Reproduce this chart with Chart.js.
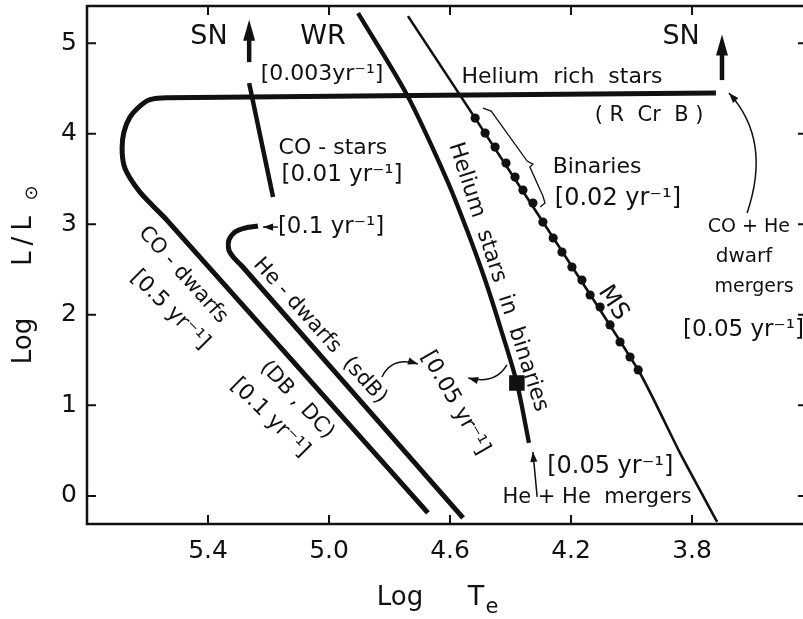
<!DOCTYPE html>
<html><head><meta charset="utf-8">
<script src="https://cdn.jsdelivr.net/npm/chart.js@4.4.1/dist/chart.umd.min.js"></script>
<style>html,body{margin:0;padding:0;overflow:hidden;background:#fff}
#wrap{width:820px;height:619px}</style></head>
<body><div id="wrap"><canvas id="c" width="820" height="619"></canvas></div>
<script>
// ---- axis ticks ----
const xTicks = [5.4, 5.0, 4.6, 4.2, 3.8];
const yTicks = [0, 1, 2, 3, 4, 5];
const xTitleMain = 'Log', xTitleT = 'T', xTitleSub = 'e';
const yTitleMain = 'Log', yTitleL = 'L/L', yTitleSub = '\u2299';

// ---- tracks (log Te, log L) ----
const coDwarfX = [3.721, 5.536, 5.592, 5.625, 5.658, 5.678, 5.684, 5.678, 5.658, 5.625, 5.585, 5.536, 4.673];
const coDwarfY = [4.448, 4.398, 4.376, 4.305, 4.183, 4.018, 3.841, 3.653, 3.510, 3.355, 3.212, 3.046, -0.188];
const heDwarfX = [5.235, 5.278, 5.311, 5.331, 5.331, 5.314, 5.288, 4.557];
const heDwarfY = [2.980, 2.958, 2.914, 2.826, 2.715, 2.627, 2.539, -0.243];
const coStarX = [5.264, 5.185];
const coStarY = [4.558, 3.300];
const heStarX = [4.904, 4.742, 4.610, 4.544, 4.484, 4.431, 4.379, 4.339];
const heStarY = [5.331, 4.426, 3.488, 2.936, 2.384, 1.832, 1.247, 0.585];
const msX = [4.739, 4.567, 4.517, 3.978, 3.840, 3.717];
const msY = [5.298, 4.426, 4.172, 1.391, 0.475, -0.287];
const msDotX = [4.517, 4.484, 4.451, 4.415, 4.385, 4.359, 4.326, 4.293, 4.259, 4.230, 4.197, 4.164, 4.137, 4.104, 4.071, 4.038, 4.005, 3.978];
const msDotY = [4.172, 4.007, 3.852, 3.675, 3.521, 3.377, 3.234, 3.024, 2.848, 2.693, 2.528, 2.384, 2.219, 2.086, 1.888, 1.700, 1.534, 1.391];
const squareX = [4.379];
const squareY = [1.247];
const snLeftX = [5.264, 5.264];
const snLeftY = [4.790, 5.143];
const snRightX = [3.701, 3.701];
const snRightY = [4.592, 4.978];

// ---- labels ----
const labelText = ['SN', 'WR', '[0.003yr\u207B\u00B9]', 'SN', 'Helium  rich  stars', '( R  Cr  B )',
  'CO - stars', '[0.01 yr\u207B\u00B9]', '[0.1 yr\u207B\u00B9]', 'Binaries', '[0.02 yr\u207B\u00B9]',
  'CO + He', 'dwarf', 'mergers', '[0.05 yr\u207B\u00B9]', '[0.05 yr\u207B\u00B9]', 'He + He  mergers',
  'MS', 'Helium  stars  in  binaries', 'CO - dwarfs', '[0.5 yr\u207B\u00B9]', 'He - dwarfs  (sdB)',
  '(DB , DC)', '[0.1 yr\u207B\u00B9]', '[0.05 yr\u207B\u00B9]'];
const labelX = [5.397, 5.020, 5.023, 3.836, 4.230, 3.942, 4.987, 4.957, 5.169, 4.114, 4.045,
  3.612, 3.628, 3.595, 3.830, 4.279, 4.114, 4.061, 4.441, 5.483, 5.526, 5.030, 5.106, 5.195, 4.583];
const labelY = [5.066, 5.066, 4.658, 5.066, 4.625, 4.205, 3.841, 3.543, 2.969, 3.631, 3.278,
  2.969, 2.638, 2.307, 1.832, 0.320, -0.022, 2.130, 2.417, 2.439, 2.053, 1.821, 1.060, 0.861, 1.026];
const labelRot = [0,0,0,0,0,0,0,0,0,0,0,0,0,0,0,0,0,57,72,48,45,48,47,45,60];
const labelSize = [27,27,22,27,22,21,22,23,23,22,24,19,20,19,23,24,21,24,22,21,22,21,21,22,22];
const labelAlign = ['c','c','c','c','c','c','c','c','l','c','c','c','c','c','l','l','c','c','c','c','c','c','c','c','c'];

// ---- pointer arrows: start, control (or null), end ----
const pointerFromX = [3.618, 4.825, 4.412, 4.312, 5.169];
const pointerFromY = [3.124, 1.313, 1.446, -0.011, 2.969];
const pointerCtrlX = [3.536, 4.792, 4.451, null, null];
const pointerCtrlY = [3.929, 1.545, 1.225, null, null];
const pointerToX = [3.678, 4.706, 4.540, 4.326, 5.218];
const pointerToY = [4.448, 1.457, 1.302, 0.486, 2.969];

// ---- bracket for "Binaries" ----
const braceX = [4.491, 4.464, 4.345, 4.326, 4.336, 4.293, 4.286, 4.302];
const braceY = [4.283, 4.249, 3.698, 3.664, 3.631, 3.311, 3.234, 3.190];

const INK = '#111';
const FONT = '"DejaVu Sans", "Liberation Sans", sans-serif';
const zip = (xs, ys) => xs.map((v, i) => ({x: v, y: ys[i]}));

function lineDs(xs, ys, w, tension, extra) {
  return Object.assign({data: zip(xs, ys), showLine: true, borderColor: INK, backgroundColor: INK,
    borderWidth: w, pointRadius: 0, tension: tension, borderCapStyle: 'butt', borderJoinStyle: 'round'}, extra || {});
}

function drawHead(ctx, fx, fy, tx, ty, len, hw, centered) {
  const dx = tx - fx, dy = ty - fy, d = Math.hypot(dx, dy) || 1;
  const ux = dx / d, uy = dy / d;
  let tipX = tx, tipY = ty;
  if (centered) { tipX = tx + ux * len / 2; tipY = ty + uy * len / 2; }
  const bx = tipX - ux * len, by = tipY - uy * len;
  ctx.beginPath();
  ctx.moveTo(tipX, tipY);
  ctx.lineTo(bx - uy * hw, by + ux * hw);
  ctx.lineTo(bx + uy * hw, by - ux * hw);
  ctx.closePath();
  ctx.fill();
}

const overlay = {
  id: 'overlay',
  afterDatasetsDraw(chart) {
    const {ctx, chartArea: a, scales: {x, y}} = chart;
    const px = v => x.getPixelForValue(v), py = v => y.getPixelForValue(v);
    ctx.save();
    ctx.strokeStyle = INK; ctx.fillStyle = INK;
    // frame
    ctx.lineWidth = 2.5;
    ctx.strokeRect(a.left, a.top, a.right - a.left, a.bottom - a.top);
    // inward ticks on all sides
    const tl = 9;
    ctx.lineWidth = 2;
    ctx.beginPath();
    xTicks.forEach(v => { const p = px(v); ctx.moveTo(p, a.bottom); ctx.lineTo(p, a.bottom - tl); ctx.moveTo(p, a.top); ctx.lineTo(p, a.top + tl); });
    yTicks.forEach(v => { const p = py(v); ctx.moveTo(a.left, p); ctx.lineTo(a.left + tl, p); ctx.moveTo(a.right, p); ctx.lineTo(a.right - tl, p); });
    ctx.stroke();
    // arrow heads on SN datasets
    chart.data.datasets.forEach((ds, i) => {
      if (!ds.arrowHead) return;
      const pts = chart.getDatasetMeta(i).data;
      const p1 = pts[pts.length - 2], p2 = pts[pts.length - 1];
      drawHead(ctx, p1.x, p1.y, p2.x, p2.y, 21, 6, true);
    });
    // pointer arrows
    ctx.lineWidth = 1.5;
    pointerFromX.forEach((fx, i) => {
      const sx = px(fx), sy = py(pointerFromY[i]);
      const ex = px(pointerToX[i]), ey = py(pointerToY[i]);
      ctx.beginPath();
      ctx.moveTo(sx, sy);
      let cx = sx, cy = sy;
      if (pointerCtrlX[i] !== null) {
        cx = px(pointerCtrlX[i]); cy = py(pointerCtrlY[i]);
        ctx.quadraticCurveTo(cx, cy, ex, ey);
      } else {
        ctx.lineTo(ex, ey);
      }
      ctx.stroke();
      drawHead(ctx, cx, cy, ex, ey, 10, 3.6, false);
    });
    // brace
    ctx.lineWidth = 1.3;
    ctx.beginPath();
    braceX.forEach((bx, i) => { const X = px(bx), Y = py(braceY[i]); if (i === 0) ctx.moveTo(X, Y); else ctx.lineTo(X, Y); });
    ctx.stroke();
    // labels
    ctx.textBaseline = 'middle';
    labelText.forEach((t, i) => {
      ctx.save();
      ctx.translate(px(labelX[i]), py(labelY[i]));
      ctx.rotate(labelRot[i] * Math.PI / 180);
      ctx.font = labelSize[i] + 'px ' + FONT;
      ctx.textAlign = labelAlign[i] === 'l' ? 'left' : 'center';
      ctx.fillText(t, 0, 0);
      ctx.restore();
    });
    ctx.restore();
  },
  afterDraw(chart) {
    const ctx = chart.ctx;
    ctx.save();
    ctx.fillStyle = INK;
    ctx.textBaseline = 'alphabetic';
    // x title
    ctx.font = '26px ' + FONT;
    ctx.textAlign = 'center';
    ctx.fillText(xTitleMain, 400, 605);
    ctx.font = '27px ' + FONT;
    ctx.fillText(xTitleT, 476, 605);
    ctx.font = '21px ' + FONT;
    ctx.fillText(xTitleSub, 492, 613);
    // y title
    ctx.translate(31, 0);
    ctx.rotate(-Math.PI / 2);
    ctx.font = '26px ' + FONT;
    ctx.textAlign = 'center';
    ctx.fillText(yTitleMain, -341, 0);
    try { ctx.letterSpacing = '6px'; } catch (e) {}
    ctx.fillText(yTitleL, -238, 0);
    try { ctx.letterSpacing = '0px'; } catch (e) {}
    ctx.font = '18px ' + FONT;
    ctx.fillText(yTitleSub, -193, 6);
    ctx.restore();
  }
};

new Chart(document.getElementById('c'), {
  type: 'scatter',
  data: {
    datasets: [
      lineDs(coDwarfX, coDwarfY, 5, 0.25),
      lineDs(heDwarfX, heDwarfY, 5, 0.25),
      lineDs(coStarX, coStarY, 4.5, 0),
      lineDs(heStarX, heStarY, 4.3, 0.3),
      lineDs(msX, msY, 2.6, 0.2),
      {data: zip(msDotX, msDotY), showLine: false, pointRadius: 4.6, pointBackgroundColor: INK, pointBorderWidth: 0},
      {data: zip(squareX, squareY), showLine: false, pointStyle: 'rect', pointRadius: 11, pointBackgroundColor: INK, pointBorderWidth: 0},
      lineDs(snLeftX, snLeftY, 4.5, 0, {arrowHead: true}),
      lineDs(snRightX, snRightY, 4.5, 0, {arrowHead: true})
    ]
  },
  options: {
    responsive: false,
    animation: false,
    devicePixelRatio: 1,
    layout: {padding: {top: 6, right: 13, left: 0, bottom: 0}, autoPadding: false},
    plugins: {legend: {display: false}, tooltip: {enabled: false}},
    scales: {
      x: {
        type: 'linear', reverse: true, min: 3.42, max: 5.8,
        grid: {display: false, drawTicks: false}, border: {display: false},
        afterBuildTicks: s => { s.ticks = xTicks.map(v => ({value: v})); },
        afterFit: s => { s.height = 95; s.paddingLeft = 0; s.paddingRight = 0; },
        ticks: {color: INK, padding: 12, font: {family: FONT, size: 25}, callback: v => Number(v).toFixed(1)}
      },
      y: {
        type: 'linear', min: -0.31, max: 5.41,
        grid: {display: false, drawTicks: false}, border: {display: false},
        afterBuildTicks: s => { s.ticks = yTicks.map(v => ({value: v})); },
        afterFit: s => { s.width = 87; s.paddingTop = 0; s.paddingBottom = 0; },
        ticks: {color: INK, padding: 10, font: {family: FONT, size: 25}, callback: v => String(v)}
      }
    }
  },
  plugins: [overlay]
});
</script>
</body></html>
